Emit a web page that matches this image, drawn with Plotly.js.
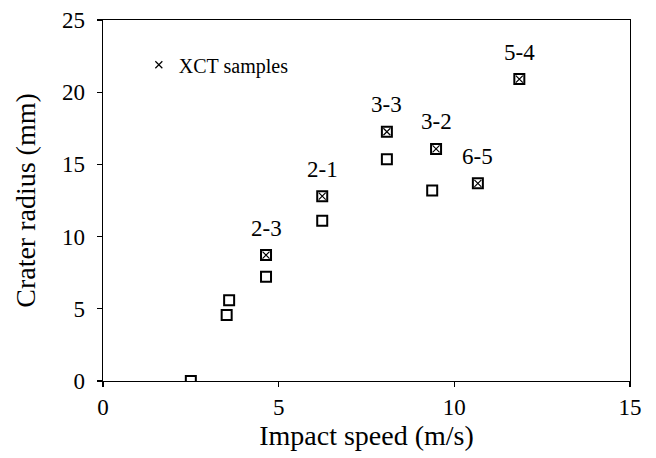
<!DOCTYPE html>
<html>
<head>
<meta charset="utf-8">
<script src="https://cdn.plot.ly/plotly-3.0.1.min.js"></script>
<style>html,body{margin:0;padding:0;background:#fff;}#chart{width:656px;height:458px;}</style>
</head>
<body>
<div id="chart"></div>
<script>
// All measured samples (open squares)
const allSpeed  = [2.5, 3.52, 3.59, 4.64, 4.64, 6.24, 6.24, 8.08, 8.08, 9.37, 9.48, 10.67, 11.85];
const allRadius = [0, 4.57, 5.6, 7.22, 8.72, 11.1, 12.8, 15.35, 17.26, 13.2, 16.07, 13.69, 20.91];
// XCT samples (crossed)
const xctSpeed  = [4.64, 6.24, 8.08, 9.48, 10.67, 11.85];
const xctRadius = [8.72, 12.8, 17.26, 16.07, 13.69, 20.91];
const xctLabels = ['2-3', '2-1', '3-3', '3-2', '6-5', '5-4'];
const xTicks = [0, 5, 10, 15];
const yTicks = [0, 5, 10, 15, 20, 25];

const FONT = 'Liberation Serif, Times New Roman, serif';

const traces = [
  {
    x: allSpeed, y: allRadius, type: 'scatter', mode: 'markers', showlegend: false,
    marker: {symbol: 'square-open', size: 10, color: '#000', line: {width: 2, color: '#000'}},
    hoverinfo: 'x+y'
  },
  {
    x: xctSpeed, y: xctRadius, type: 'scatter', mode: 'markers', name: 'XCT samples',
    marker: {symbol: 'x-thin-open', size: 7, color: '#000', line: {width: 1.2, color: '#000'}}
  }
];

const annotations = xctLabels.map((t, i) => ({
  x: xctSpeed[i], y: xctRadius[i], xref: 'x', yref: 'y', text: t, showarrow: false,
  yshift: 27, font: {family: FONT, size: 23, color: '#000'}
}));

const layout = {
  width: 656, height: 458,
  margin: {l: 103, r: 26, t: 20, b: 77},
  paper_bgcolor: '#fff', plot_bgcolor: '#fff',
  font: {family: FONT, color: '#000'},
  showlegend: true,
  legend: {x: 0.068, y: 0.93, xanchor: 'left', yanchor: 'top', bgcolor: 'rgba(0,0,0,0)',
           font: {family: FONT, size: 20, color: '#000'}, itemsizing: 'trace'},
  xaxis: {
    range: [0, 15], tickvals: xTicks, ticktext: xTicks.map(String),
    showgrid: false, zeroline: false, showline: true, linecolor: '#000', linewidth: 1.3, mirror: true,
    ticks: 'outside', ticklen: 5, tickcolor: '#000', tickwidth: 1.3,
    tickfont: {family: FONT, size: 23, color: '#000'},
    title: {text: 'Impact speed (m/s)', standoff: 0, font: {family: FONT, size: 28, color: '#000'}}
  },
  yaxis: {
    range: [0, 25], tickvals: yTicks, ticktext: yTicks.map(String),
    showgrid: false, zeroline: false, showline: true, linecolor: '#000', linewidth: 1.3, mirror: true,
    ticks: 'outside', ticklen: 5, tickcolor: '#000', tickwidth: 1.3, ticklabelstandoff: 7,
    tickfont: {family: FONT, size: 23, color: '#000'},
    title: {text: 'Crater radius (mm)', standoff: 18, font: {family: FONT, size: 28, color: '#000'}}
  },
  annotations: annotations
};

Plotly.newPlot('chart', traces, layout, {displayModeBar: false, staticPlot: true});
</script>
</body>
</html>
